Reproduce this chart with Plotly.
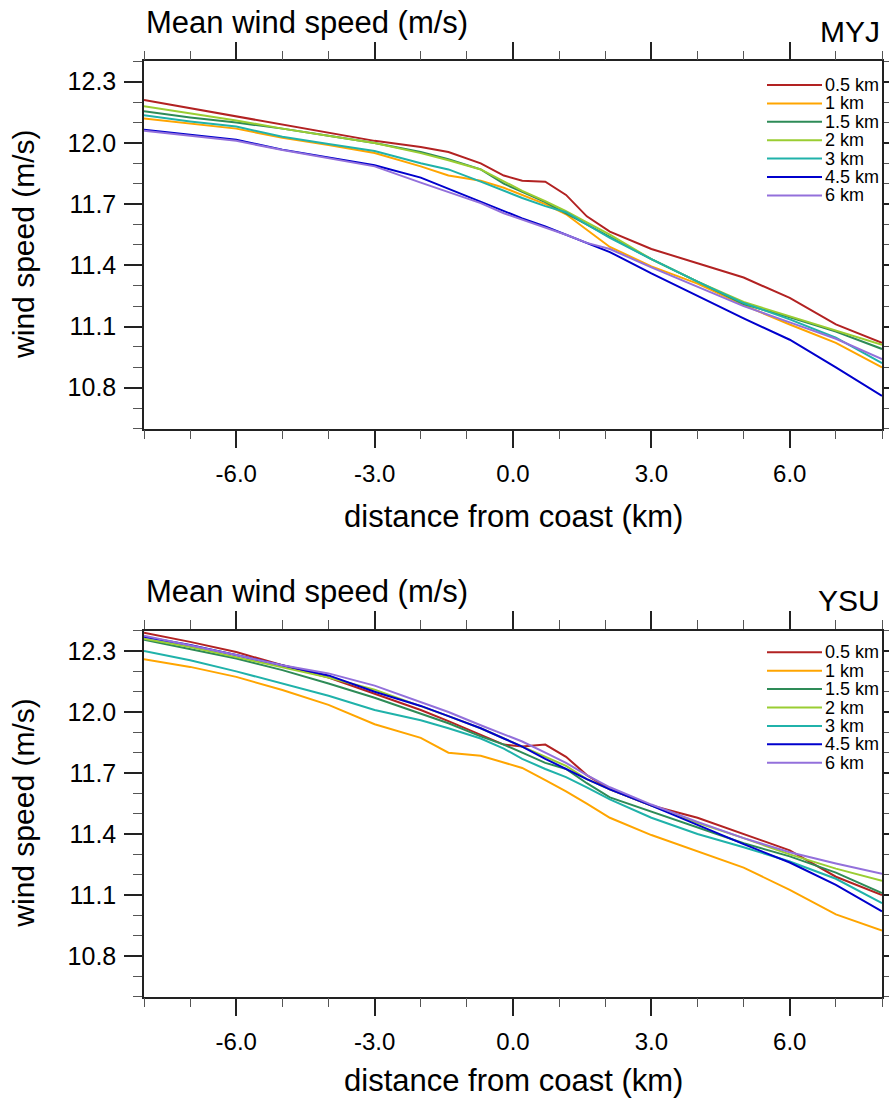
import plotly.graph_objects as go

# ---------------- data ----------------
distance_km = [-8, -7, -6, -5, -4, -3, -2, -1.4, -0.7, -0.2, 0.2, 0.7, 1.15, 1.6, 2.1, 3, 4, 5, 6, 7, 8]

series_labels = ["0.5 km", "1 km", "1.5 km", "2 km", "3 km", "4.5 km", "6 km"]
series_colors = ["#b22222", "#ffa500", "#2e8b57", "#9acd32", "#20b2aa", "#0000cd", "#9370db"]

# MYJ scheme
myj_0p5 = [12.21, 12.17, 12.13, 12.09, 12.05, 12.01, 11.98, 11.955, 11.90, 11.84, 11.815, 11.81, 11.745, 11.64, 11.565, 11.48, 11.41, 11.34, 11.24, 11.11, 11.02]
myj_1 = [12.12, 12.095, 12.07, 12.025, 11.99, 11.95, 11.885, 11.84, 11.815, 11.78, 11.745, 11.70, 11.65, 11.575, 11.49, 11.395, 11.31, 11.205, 11.11, 11.02, 10.90]
myj_1p5 = [12.155, 12.125, 12.10, 12.07, 12.035, 12.0, 11.955, 11.92, 11.87, 11.80, 11.76, 11.71, 11.655, 11.60, 11.54, 11.43, 11.32, 11.21, 11.145, 11.075, 10.99]
myj_2 = [12.18, 12.145, 12.11, 12.07, 12.035, 12.0, 11.95, 11.915, 11.87, 11.81, 11.765, 11.715, 11.665, 11.61, 11.55, 11.43, 11.32, 11.22, 11.15, 11.08, 11.01]
myj_3 = [12.135, 12.105, 12.08, 12.03, 11.995, 11.96, 11.90, 11.87, 11.81, 11.765, 11.73, 11.69, 11.66, 11.60, 11.535, 11.43, 11.32, 11.215, 11.135, 11.045, 10.92]
myj_4p5 = [12.065, 12.04, 12.015, 11.967, 11.93, 11.89, 11.83, 11.775, 11.71, 11.665, 11.63, 11.59, 11.55, 11.51, 11.465, 11.36, 11.25, 11.14, 11.035, 10.90, 10.76]
myj_6 = [12.06, 12.035, 12.01, 11.965, 11.925, 11.885, 11.805, 11.76, 11.705, 11.655, 11.625, 11.585, 11.55, 11.51, 11.48, 11.39, 11.295, 11.20, 11.12, 11.04, 10.94]

# YSU scheme
ysu_0p5 = [12.39, 12.345, 12.295, 12.23, 12.17, 12.09, 12.01, 11.955, 11.89, 11.84, 11.83, 11.84, 11.78, 11.69, 11.62, 11.54, 11.48, 11.40, 11.32, 11.19, 11.10]
ysu_1 = [12.26, 12.222, 12.173, 12.108, 12.035, 11.94, 11.873, 11.80, 11.785, 11.75, 11.725, 11.665, 11.61, 11.55, 11.48, 11.395, 11.315, 11.235, 11.125, 11.005, 10.925]
ysu_1p5 = [12.355, 12.31, 12.263, 12.206, 12.14, 12.07, 11.99, 11.945, 11.88, 11.84, 11.80, 11.75, 11.72, 11.65, 11.58, 11.51, 11.43, 11.355, 11.29, 11.21, 11.11]
ysu_2 = [12.36, 12.32, 12.27, 12.22, 12.17, 12.11, 12.03, 11.98, 11.92, 11.87, 11.83, 11.78, 11.735, 11.67, 11.62, 11.54, 11.455, 11.38, 11.30, 11.23, 11.17]
ysu_3 = [12.30, 12.255, 12.20, 12.14, 12.08, 12.01, 11.96, 11.92, 11.87, 11.82, 11.77, 11.72, 11.68, 11.63, 11.57, 11.48, 11.40, 11.335, 11.265, 11.18, 11.06]
ysu_4p5 = [12.37, 12.33, 12.28, 12.23, 12.18, 12.10, 12.03, 11.98, 11.92, 11.87, 11.83, 11.77, 11.72, 11.67, 11.62, 11.54, 11.445, 11.35, 11.26, 11.15, 11.02]
ysu_6 = [12.375, 12.328, 12.28, 12.23, 12.19, 12.13, 12.05, 12.0, 11.935, 11.89, 11.855, 11.80, 11.75, 11.69, 11.63, 11.545, 11.46, 11.38, 11.31, 11.255, 11.205]

x_tickvals = [-6, -3, 0, 3, 6]
x_ticktext = ["-6.0", "-3.0", "0.0", "3.0", "6.0"]
y_tickvals = [10.8, 11.1, 11.4, 11.7, 12.0, 12.3]
y_ticktext = ["10.8", "11.1", "11.4", "11.7", "12.0", "12.3"]

myj_series = [myj_0p5, myj_1, myj_1p5, myj_2, myj_3, myj_4p5, myj_6]
ysu_series = [ysu_0p5, ysu_1, ysu_1p5, ysu_2, ysu_3, ysu_4p5, ysu_6]

# ---------------- layout helpers ----------------
W, H = 889, 1101
def fx(p):
    return p / W
def fy(p):
    return 1 - p / H

FONT = "Liberation Sans, Arial, Helvetica, sans-serif"
AX_COL = "#222222"

left_px, right_px = 144, 882
panels = [
    dict(top=61.3, bottom=428.5, title_y=23, tag="MYJ", tag_y=32, legend_y0=85.0, xtitle_y=517),
    dict(top=630.7, bottom=996.7, title_y=592, tag="YSU", tag_y=600, legend_y0=652.3, xtitle_y=1080),
]

fig = go.Figure()

for pi, (panel, data) in enumerate(zip(panels, [myj_series, ysu_series])):
    xa = "x" if pi == 0 else "x2"
    ya = "y" if pi == 0 else "y2"
    for lab, col, vals in zip(series_labels, series_colors, data):
        fig.add_trace(go.Scatter(x=distance_km, y=vals, mode="lines", name=lab,
                                 line=dict(color=col, width=2), xaxis=xa, yaxis=ya,
                                 showlegend=False))

def xaxis_cfg(anchor):
    return dict(
        domain=[fx(left_px), fx(right_px)], anchor=anchor, range=[-8, 8],
        automargin=False,
        tickmode="array", tickvals=x_tickvals, ticktext=x_ticktext,
        ticks="outside", ticklen=18, tickwidth=1.5, tickcolor=AX_COL,
        showline=True, linecolor=AX_COL, linewidth=1.5, mirror="allticks",
        showgrid=False, zeroline=False,
        tickfont=dict(family=FONT, size=24, color="black"),
        ticklabelstandoff=5,
        minor=dict(tickmode="array", tickvals=list(range(-8, 9)), ticks="outside",
                   ticklen=9, tickwidth=1, tickcolor="#555555", showgrid=False),
    )

def yaxis_cfg(anchor, dom):
    return dict(
        domain=dom, anchor=anchor, range=[10.6, 12.4],
        automargin=False,
        tickmode="array", tickvals=y_tickvals, ticktext=y_ticktext,
        ticks="outside", ticklen=18, tickwidth=1.5, tickcolor=AX_COL,
        showline=True, linecolor=AX_COL, linewidth=1.5, mirror="allticks",
        showgrid=False, zeroline=False,
        tickfont=dict(family=FONT, size=25, color="black"),
        ticklabelstandoff=3,
        minor=dict(tickmode="array", tickvals=[round(10.6 + 0.1 * k, 1) for k in range(19)],
                   ticks="outside", ticklen=9, tickwidth=1, tickcolor="#555555", showgrid=False),
    )

p0, p1 = panels
fig.update_layout(
    xaxis=xaxis_cfg("y"),
    yaxis=yaxis_cfg("x", [fy(p0["bottom"]), fy(p0["top"])]),
    xaxis2=xaxis_cfg("y2"),
    yaxis2=yaxis_cfg("x2", [fy(p1["bottom"]), fy(p1["top"])]),
)

annotations = []
shapes = []
for pi, panel in enumerate(panels):
    annotations.append(dict(text="Mean wind speed (m/s)", x=fx(left_px), y=fy(panel["title_y"]),
                            xref="paper", yref="paper", xanchor="left", yanchor="middle",
                            showarrow=False, font=dict(family=FONT, size=31, color="black")))
    annotations.append(dict(text=panel["tag"], x=fx(right_px), y=fy(panel["tag_y"]),
                            xref="paper", yref="paper", xanchor="right", yanchor="middle",
                            showarrow=False, font=dict(family=FONT, size=30, color="black")))
    annotations.append(dict(text="wind speed (m/s)", x=fx(24), y=fy((panel["top"] + panel["bottom"]) / 2),
                            xref="paper", yref="paper", xanchor="center", yanchor="middle",
                            textangle=-90, showarrow=False, font=dict(family=FONT, size=30, color="black")))
    annotations.append(dict(text="distance from coast (km)", x=fx((left_px + right_px) / 2), y=fy(panel["xtitle_y"]),
                            xref="paper", yref="paper", xanchor="center", yanchor="middle",
                            showarrow=False, font=dict(family=FONT, size=31, color="black")))
    for i, (lab, col) in enumerate(zip(series_labels, series_colors)):
        ry = panel["legend_y0"] + 18.4 * i
        shapes.append(dict(type="line", xref="paper", yref="paper",
                           x0=fx(767), x1=fx(822), y0=fy(ry), y1=fy(ry),
                           line=dict(color=col, width=2)))
        annotations.append(dict(text=lab, x=fx(823), y=fy(ry), xref="paper", yref="paper",
                                xanchor="left", yanchor="middle", showarrow=False,
                                font=dict(family=FONT, size=18, color="black")))

fig.update_layout(
    width=W, height=H, margin=dict(l=0, r=0, t=0, b=0, autoexpand=False),
    paper_bgcolor="white", plot_bgcolor="white",
    annotations=annotations, shapes=shapes, showlegend=False,
)

fig.write_html("out.html")
